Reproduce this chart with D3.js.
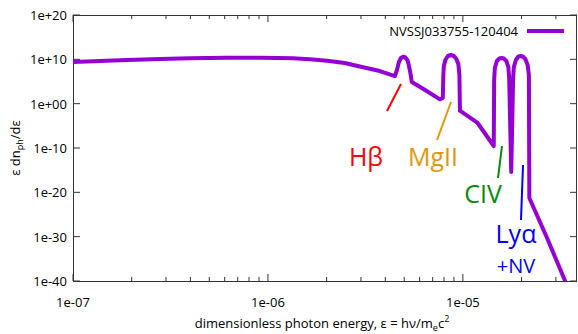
<!DOCTYPE html>
<html>
<head>
<meta charset="utf-8">
<script src="https://cdn.jsdelivr.net/npm/d3@7"></script>
<style>
  body { margin: 0; background: #fff; }
  text { font-family: "Open Sans", "Noto Sans", sans-serif; }
</style>
</head>
<body>
<svg id="chart"></svg>
<script>
var width = 578
var height = 334

// spectrum: photon energy (eps) and eps dn/deps
// continuum, then the Hbeta, MgII, CIV and Lya bumps
var energy = [1.00e-7, 1.376e-7, 1.89e-7, 2.79e-7, 3.98e-7, 6.17e-7, 9.10e-7, 1.34e-6,
  1.642e-6, 2.01e-6, 2.48e-6, 2.96e-6, 3.75e-6, 4.48e-6,
  4.59e-6, 4.70e-6, 4.81e-6, 4.94e-6, 5.07e-6, 5.19e-6, 5.28e-6, 5.38e-6, 5.47e-6,
  6.46e-6, 7.62e-6,
  7.89e-6, 7.94e-6, 7.99e-6, 8.13e-6, 8.38e-6, 8.68e-6, 8.99e-6, 9.26e-6, 9.48e-6, 9.60e-6, 9.66e-6,
  1.19e-5, 1.44e-5,
  1.447e-5, 1.459e-5, 1.494e-5, 1.539e-5, 1.579e-5, 1.623e-5, 1.671e-5, 1.711e-5, 1.728e-5, 1.77e-5,
  1.811e-5, 1.826e-5, 1.870e-5, 1.926e-5, 1.977e-5, 2.031e-5, 2.092e-5, 2.149e-5, 2.181e-5, 2.193e-5,
  2.69e-5, 3.33e-5, 4.23e-5]
var flux = [2.5e9, 4.2e9, 7.1e9, 1.2e10, 1.7e10, 2.3e10, 2.3e10, 1.7e10,
  1.0e10, 4.9e9, 1.5e9, 2.4e8, 2.3e7, 1.7e6,
  3.9e7, 2.5e9, 2.0e10, 3.9e10, 2.6e10, 7.1e9, 5.2e8, 8.3e6, 7.8e4,
  9.3e2, 9.5,
  19, 3.0e6, 3.2e8, 7.1e9, 5.6e10, 9.5e10, 5.6e10, 1.2e10, 8.9e8, 3.0e6, 2.6e-2,
  4.4e-5, 2.8e-10,
  2.2e5, 1.1e8, 4.2e9, 1.5e10, 2.0e10, 1.5e10, 4.2e9, 1.9e8, 6.2e5, 3.8e-16,
  6.2e5, 1.9e8, 7.1e9, 4.4e10, 5.6e10, 4.4e10, 1.2e10, 5.2e8, 3.0e6, 5.2e-22,
  8.3e-31, 1.7e-40, 1e-51]

var seriesName = "NVSSJ033755-120404"
var xTicks = [1e-7, 1e-6, 1e-5]
var yTicks = [1e20, 1e10, 1e0, 1e-10, 1e-20, 1e-30, 1e-40]

// emission line labels
var lineNames = ["Hβ", "MgII", "CIV", "Lyα", "+NV"]
var lineColors = ["#ff0000", "#e3960c", "#0a8a0a", "#0000ff", "#0000ff"]

var margin = {left: 73, right: 1, top: 15, bottom: 53}
var lineColor = "#9400d3"

var svg = d3.select('#chart')
svg.attr("width", width)
svg.attr("height", height)

var x = d3.scaleLog().domain([1e-7, 3.85e-5]).range([margin.left, width - margin.right])
var y = d3.scaleLog().domain([1e-40, 1e20]).range([height - margin.bottom, margin.top])

var x0 = x.range()[0], x1 = x.range()[1]
var y0 = y.range()[0], y1 = y.range()[1]

svg.append("defs").append("clipPath").attr("id", "clip")
  .append("rect")
  .attr("x", x0).attr("y", y1)
  .attr("width", x1 - x0).attr("height", y0 - y1)

// minor x ticks for each decade
var minor = []
for (var d = -7; d <= -5; d++) {
  for (var m = 2; m <= 9; m++) {
    var v = m * Math.pow(10, d)
    if (v < x.domain()[1]) minor.push(v)
  }
}

var axisColor = "#333"

function tickX(v, len){
  svg.append("line").attr("x1", x(v)).attr("x2", x(v))
    .attr("y1", y0).attr("y2", y0 - len).attr("stroke", axisColor)
  svg.append("line").attr("x1", x(v)).attr("x2", x(v))
    .attr("y1", y1).attr("y2", y1 + len).attr("stroke", axisColor)
}
minor.forEach(v => tickX(v, 4))
xTicks.forEach(v => tickX(v, 7))

yTicks.forEach(function(v){
  svg.append("line").attr("x1", x0).attr("x2", x0 + 7)
    .attr("y1", y(v)).attr("y2", y(v)).attr("stroke", axisColor)
  svg.append("line").attr("x1", x1).attr("x2", x1 - 7)
    .attr("y1", y(v)).attr("y2", y(v)).attr("stroke", axisColor)
})

svg.append("rect")
  .attr("x", x0 + 0.5).attr("y", y1 + 0.5)
  .attr("width", x1 - x0 - 1).attr("height", y0 - y1)
  .attr("fill", "none").attr("stroke", axisColor)

// tick labels
var fmtY = function(v){
  var e = Math.round(Math.log10(v))
  var s = Math.abs(e) < 10 ? "0" + Math.abs(e) : "" + Math.abs(e)
  return "1e" + (e < 0 ? "-" : "+") + s
}
svg.selectAll(".ylab").data(yTicks).enter().append("text")
  .attr("x", x0 - 6).attr("y", d => y(d))
  .attr("text-anchor", "end").attr("dominant-baseline", "central")
  .attr("font-size", 13).attr("fill", "#000")
  .text(fmtY)

svg.selectAll(".xlab").data(xTicks).enter().append("text")
  .attr("x", d => x(d)).attr("y", y0 + 21)
  .attr("text-anchor", "middle").attr("dominant-baseline", "central")
  .attr("font-size", 13).attr("fill", "#000")
  .text(d => "1e-0" + Math.round(-Math.log10(d)))

// axis titles
var xt = svg.append("text").attr("x", 322).attr("y", 328)
  .attr("text-anchor", "middle").attr("font-size", 13).attr("fill", "#000")
xt.append("tspan").text("dimensionless photon energy, ε = hν/m")
xt.append("tspan").attr("font-size", 9).attr("dy", 3).text("e")
xt.append("tspan").attr("dy", -3).text("c")
xt.append("tspan").attr("font-size", 9).attr("dy", -6).text("2")

var yt = svg.append("text").attr("transform", "translate(20,148) rotate(-90)")
  .attr("text-anchor", "middle").attr("font-size", 13).attr("fill", "#000")
yt.append("tspan").text("ε dn")
yt.append("tspan").attr("font-size", 9).attr("dy", 3).text("ph")
yt.append("tspan").attr("dy", -3).text("/dε")

// spectrum
var pts = energy.map((e, k) => [e, flux[k]])
var line = d3.line()
  .x(d => x(d[0]))
  .y(d => y(d[1]))

svg.append("path")
  .datum(pts)
  .attr("clip-path", "url(#clip)")
  .attr("d", line)
  .attr("fill", "none")
  .attr("stroke", lineColor)
  .attr("stroke-width", 4)
  .attr("stroke-linejoin", "round")

// legend
svg.append("text").attr("x", 518).attr("y", 31)
  .attr("text-anchor", "end").attr("dominant-baseline", "central")
  .attr("font-size", 13).attr("fill", "#000").text(seriesName)
svg.append("line").attr("x1", 527).attr("x2", 564)
  .attr("y1", 31).attr("y2", 31)
  .attr("stroke", lineColor).attr("stroke-width", 4)

// line labels and pointers
var labelPos = [[366, 166, 25], [433, 166, 25], [483, 203, 25], [516, 243, 25], [516, 273, 20]]
var pointers = [[401, 84, 387, 111], [451, 102, 437, 140], [502, 146, 498, 178], [523, 165, 521, 220]]

lineNames.forEach(function(n, k){
  svg.append("text").attr("x", labelPos[k][0]).attr("y", labelPos[k][1])
    .attr("text-anchor", "middle").attr("font-size", labelPos[k][2])
    .attr("fill", lineColors[k]).text(n)
})
pointers.forEach(function(p, k){
  svg.append("line").attr("x1", p[0]).attr("y1", p[1]).attr("x2", p[2]).attr("y2", p[3])
    .attr("stroke", lineColors[k]).attr("stroke-width", 2)
})
</script>
</body>
</html>
